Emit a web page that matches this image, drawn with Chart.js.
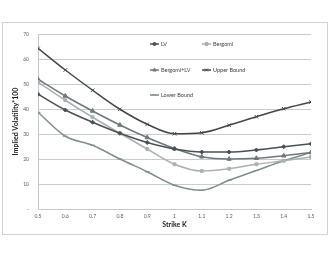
<!DOCTYPE html>
<html>
<head>
<meta charset="utf-8">
<script src="https://cdn.jsdelivr.net/npm/chart.js@4/dist/chart.umd.min.js"></script>
<style>
  html, body { margin: 0; padding: 0; background: #fff; }
  #chart { display: block; }
</style>
</head>
<body>
<canvas id="chart" width="330" height="255"></canvas>
<script>
// strike values (x axis)
var strikes = [0.5, 0.6, 0.7, 0.8, 0.9, 1.0, 1.1, 1.2, 1.3, 1.4, 1.5];

// implied vol * 100
var lv         = [45.9, 39.6, 34.7, 30.3, 26.6, 24.0, 22.8, 22.8, 23.6, 24.9, 26.1];
var bergomi    = [50.8, 43.5, 36.7, 30.3, 24.0, 17.9, 15.2, 16.1, 17.9, 19.3, 20.8];
var bergomiLv  = [51.9, 45.2, 39.2, 33.6, 28.6, 24.2, 20.9, 20.0, 20.3, 21.3, 22.6];
var upperBound = [64.3, 55.6, 47.5, 39.9, 33.9, 30.1, 30.5, 33.5, 36.9, 40.1, 42.8];
var lowerBound = [38.7, 29.1, 25.5, 20.0, 14.9, 9.5, 7.5, 11.5, 15.4, 19.3, 22.6];

var yTicks = [0, 10, 20, 30, 40, 50, 60, 70];

var FONT = "Lato";

function series(label, values, color, style, radius) {
	return {
		label: label,
		data: strikes.map(function(k, i) { return { x: k, y: values[i] }; }),
		borderColor: color,
		backgroundColor: color,
		pointBorderColor: color,
		pointBackgroundColor: color,
		pointStyle: style,
		pointRadius: radius,
		pointBorderWidth: 1,
		borderWidth: 1.5,
		cubicInterpolationMode: 'monotone',
		fill: false
	};
}

var datasets = [
	series('LV', lv, '#4b5055', 'rectRot', 2),
	series('Bergomi', bergomi, '#a9b1b2', 'rect', 2),
	series('Bergomi+LV', bergomiLv, '#6e787b', 'triangle', 2.5),
	series('Upper Bound', upperBound, '#42474c', 'crossRot', 2.5),
	series('Lower Bound', lowerBound, '#7f8d8d', 'line', 2.5)
];

// legend drawn inside the plot area like the original
var legendSpots = [
	[150, 44], [202, 44],
	[150, 70], [202, 70],
	[150, 95]
];

var overlay = {
	id: 'overlay',
	beforeDraw: function(chart) {
		var c = chart.ctx;
		c.save();
		c.strokeStyle = '#d0d3d3';
		c.lineWidth = 1;
		c.strokeRect(2.5, 22.5, 325, 212);
		c.restore();
	},
	afterDraw: function(chart) {
		var c = chart.ctx;
		c.save();
		c.font = '5.5px ' + FONT;
		c.textBaseline = 'middle';
		chart.data.datasets.forEach(function(ds, i) {
			var p = legendSpots[i];
			c.strokeStyle = ds.borderColor;
			c.fillStyle = ds.borderColor;
			c.lineWidth = 1.5;
			c.beginPath();
			c.moveTo(p[0], p[1]);
			c.lineTo(p[0] + 9, p[1]);
			c.stroke();
			c.lineWidth = 1;
			Chart.helpers.drawPoint(c, {
				pointStyle: ds.pointStyle,
				radius: 2,
				borderWidth: 1
			}, p[0] + 4.5, p[1]);
			c.fillStyle = '#404040';
			c.fillText(ds.label, p[0] + 11, p[1] + 0.5);
		});
		c.restore();
	}
};

new Chart(document.getElementById('chart'), {
	type: 'line',
	data: { datasets: datasets },
	options: {
		responsive: false,
		animation: false,
		layout: { padding: { left: 12, right: 19, top: 34, bottom: 26 } },
		plugins: {
			legend: { display: false },
			tooltip: { enabled: false }
		},
		scales: {
			x: {
				type: 'linear',
				min: 0.5,
				max: 1.5,
				afterBuildTicks: function(scale) {
					scale.ticks = strikes.map(function(v) { return { value: v }; });
				},
				afterFit: function(scale) { scale.height = 20; },
				grid: { display: false, drawTicks: false },
				border: { display: true, color: '#c4c8c8', width: 1 },
				ticks: {
					padding: 4,
					maxRotation: 0,
					color: '#595959',
					font: { family: FONT, size: 5 },
					callback: function(v) { return String(Math.round(v * 10) / 10); }
				},
				title: {
					display: true,
					text: 'Strike K',
					color: '#222',
					font: { family: FONT, size: 7, weight: 'bold' },
					padding: { top: 2, bottom: 0 }
				}
			},
			y: {
				min: 0,
				max: 70,
				afterBuildTicks: function(scale) {
					scale.ticks = yTicks.map(function(v) { return { value: v }; });
				},
				afterFit: function(scale) { scale.width = 26; },
				grid: { color: '#c8cccc', lineWidth: 1, drawTicks: false },
				border: { display: true, color: '#c4c8c8', width: 1 },
				ticks: {
					padding: 9,
					color: '#595959',
					font: { family: FONT, size: 5 },
					callback: function(v) { return v === 0 ? '-' : String(v); }
				},
				title: {
					display: true,
					text: 'Implied Volatility*100',
					color: '#222',
					font: { family: FONT, size: 7, weight: 'bold' },
					padding: { top: 0, bottom: 0 }
				}
			}
		}
	},
	plugins: [overlay]
});
</script>
</body>
</html>
